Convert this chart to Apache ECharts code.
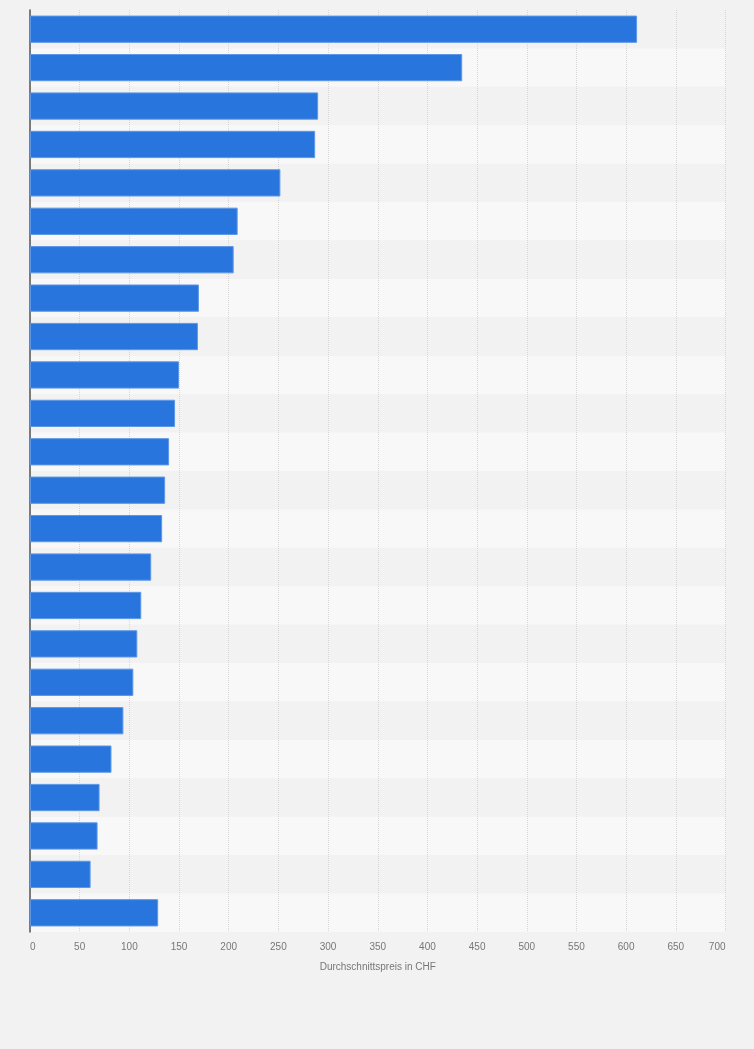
<!DOCTYPE html>
<html>
<head>
<meta charset="utf-8">
<style>
  html, body { margin: 0; padding: 0; background: #f2f2f2; }
  #chart { width: 754px; height: 1049px; }
</style>
<script src="https://cdn.jsdelivr.net/npm/echarts@6/dist/echarts.min.js"></script>
</head>
<body>
<div id="chart"></div>
<script>
// categories are not labelled in the picture, so keep simple placeholders
const categories = [
  'Kategorie 1', 'Kategorie 2', 'Kategorie 3', 'Kategorie 4', 'Kategorie 5', 'Kategorie 6',
  'Kategorie 7', 'Kategorie 8', 'Kategorie 9', 'Kategorie 10', 'Kategorie 11', 'Kategorie 12',
  'Kategorie 13', 'Kategorie 14', 'Kategorie 15', 'Kategorie 16', 'Kategorie 17', 'Kategorie 18',
  'Kategorie 19', 'Kategorie 20', 'Kategorie 21', 'Kategorie 22', 'Kategorie 23', 'Kategorie 24'
];
const prices = [
  611, 435, 290, 287, 252, 209, 205, 170, 169, 150, 146, 140,
  136, 133, 122, 112, 108, 104, 94, 82, 70, 68, 61, 129
];
const xMin = 0;
const xMax = 700;
const xStep = 50;
const xTitle = 'Durchschnittspreis in CHF';

const chart = echarts.init(document.getElementById('chart'));

const option = {
  backgroundColor: '#f2f2f2',
  animation: false,
  textStyle: { fontFamily: '"Liberation Sans", Arial, sans-serif' },
  grid: { left: 30, right: 28.5, top: 10, bottom: 117 },
  xAxis: {
    type: 'value',
    min: xMin,
    max: xMax,
    interval: xStep,
    name: xTitle,
    nameLocation: 'middle',
    nameGap: 30,
    nameTextStyle: { color: '#777', fontSize: 10 },
    axisLine: { show: false },
    axisTick: { show: false },
    axisLabel: {
      color: '#777', fontSize: 10, margin: 10,
      alignMinLabel: 'left', alignMaxLabel: 'right'
    },
    splitLine: { show: true, lineStyle: { color: '#d6d6d6', type: [1, 1], width: 1 } }
  },
  yAxis: {
    type: 'category',
    data: categories,
    inverse: true,
    axisLine: { show: true, lineStyle: { color: '#555', width: 1.5 } },
    axisTick: { show: false },
    axisLabel: { show: false },
    splitArea: { show: true, areaStyle: { color: ['#f2f2f2', '#f8f8f8'] } }
  },
  series: [
    {
      name: xTitle,
      type: 'bar',
      data: prices,
      barCategoryGap: '29%',
      itemStyle: { color: '#2876dd', borderColor: '#5d97e6', borderWidth: 1 }
    }
  ]
};

chart.setOption(option);
</script>
</body>
</html>
